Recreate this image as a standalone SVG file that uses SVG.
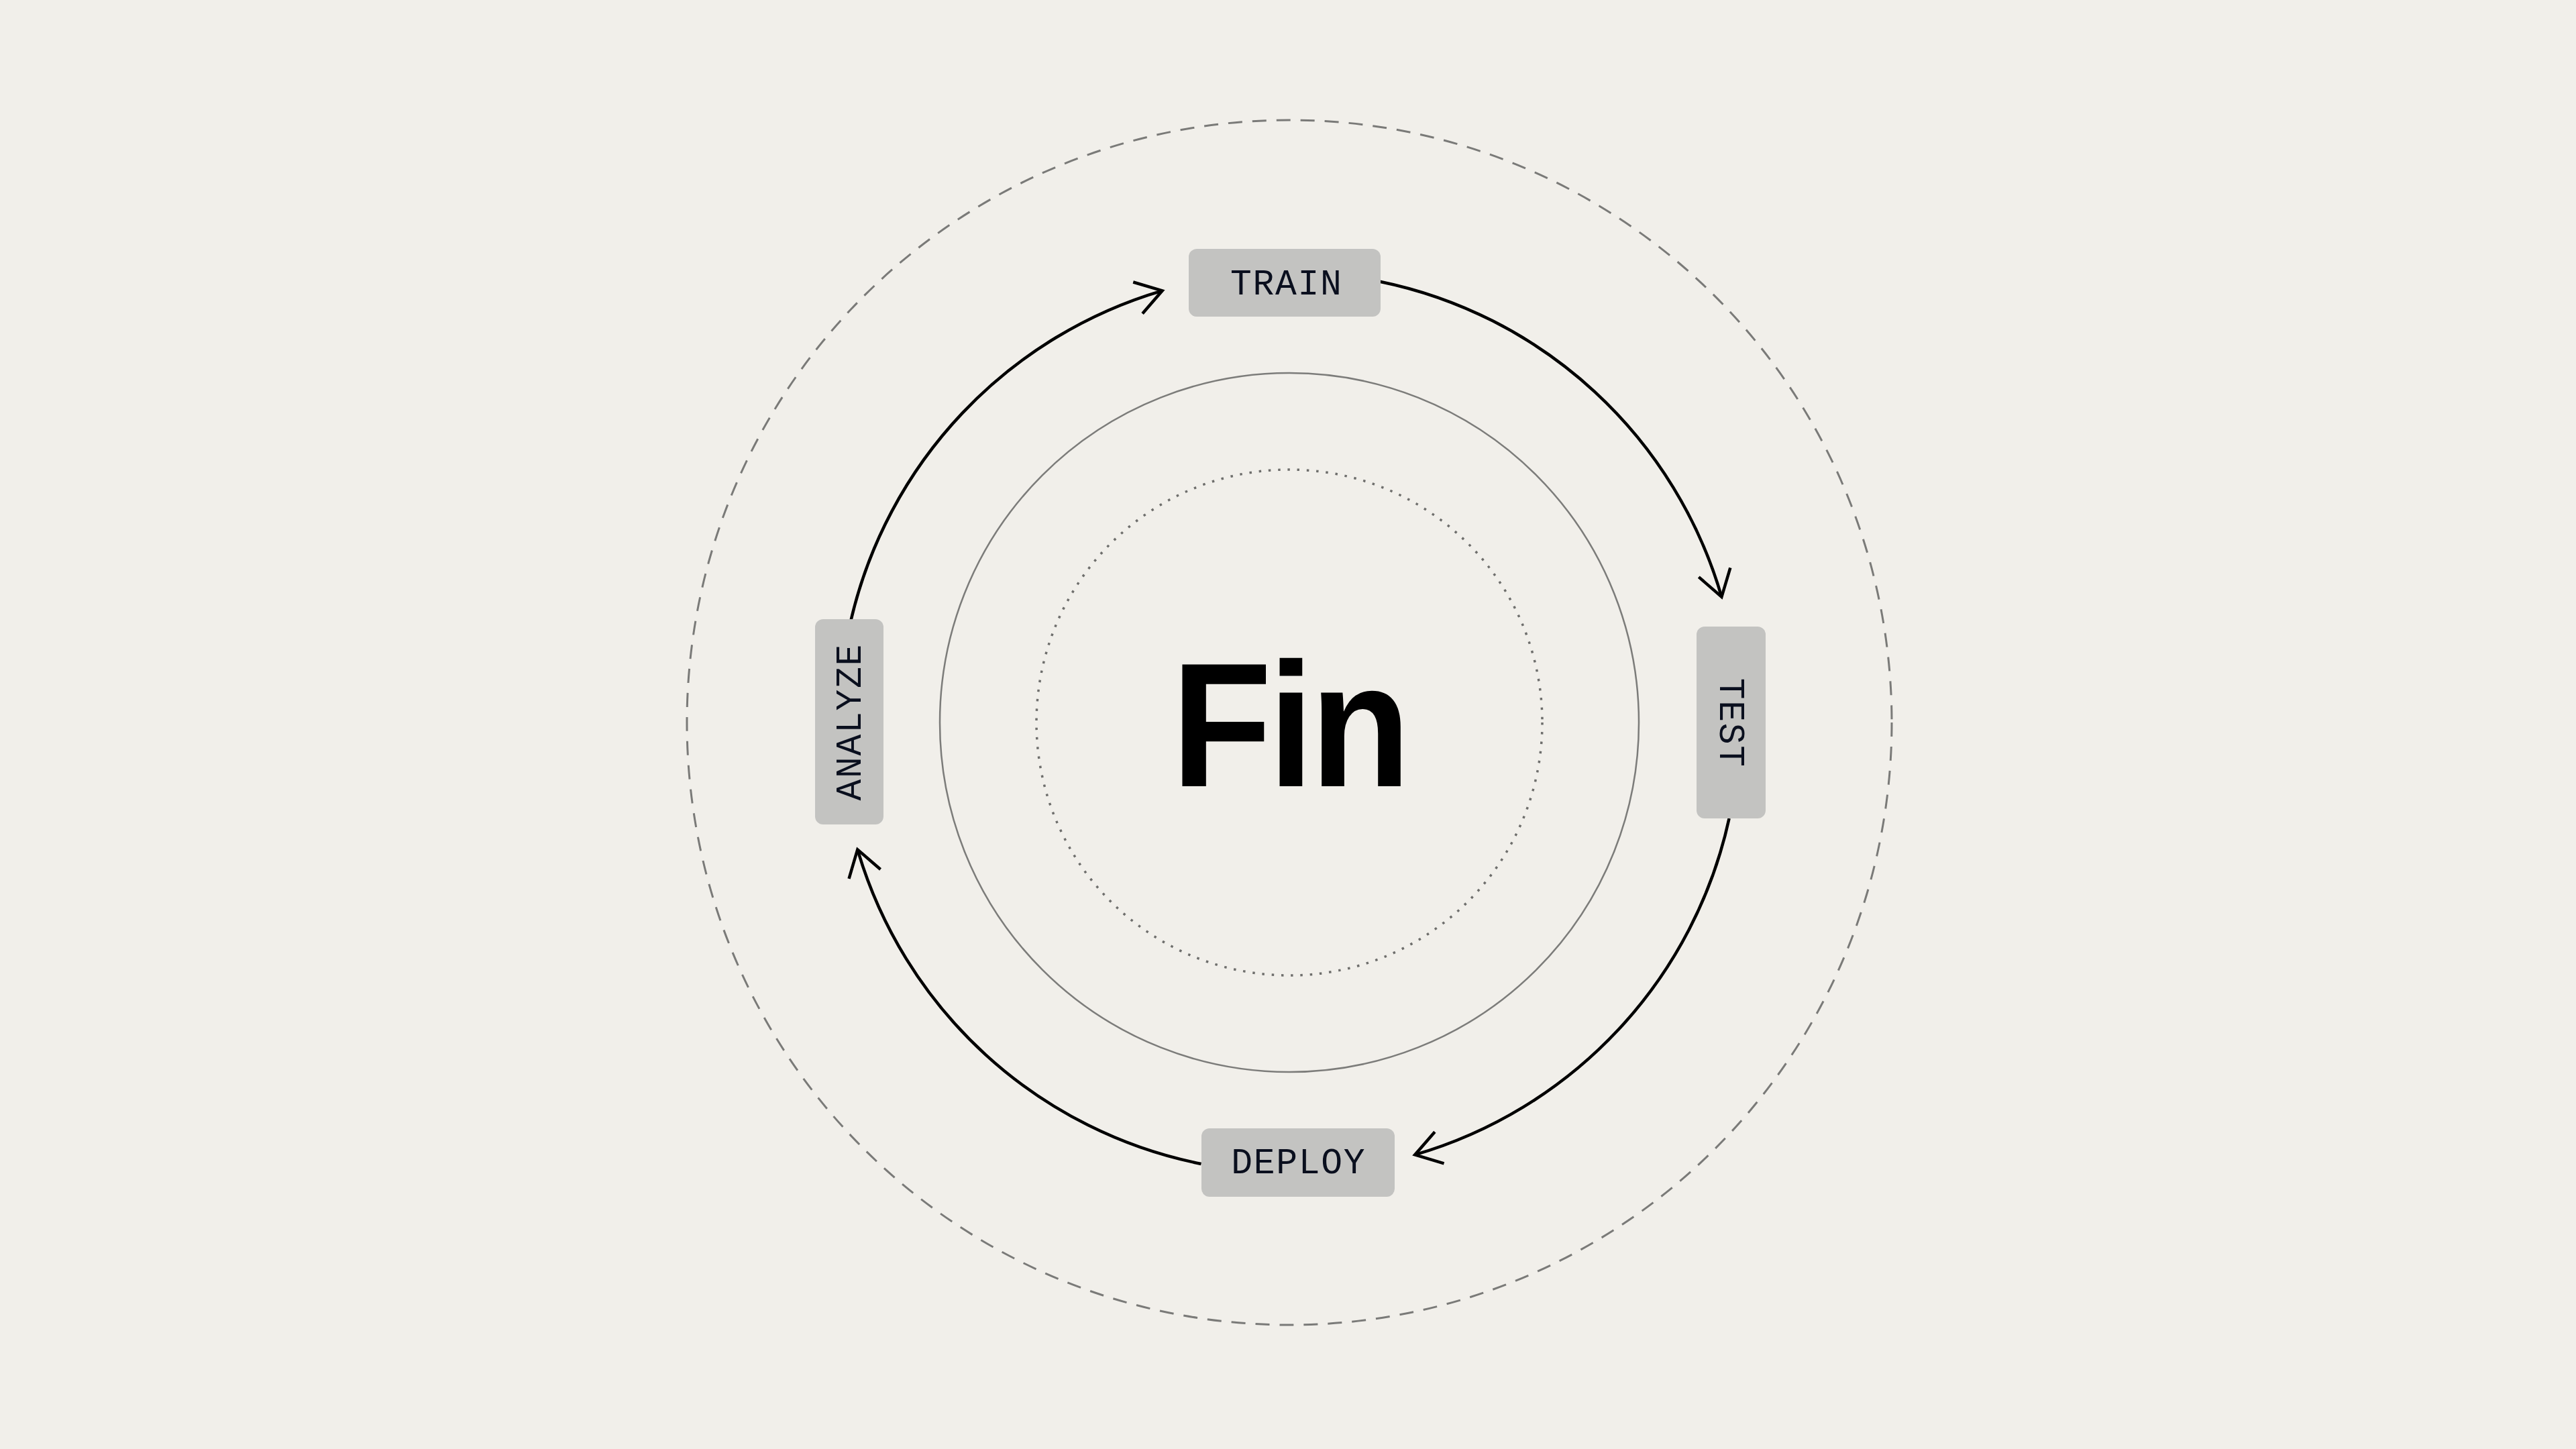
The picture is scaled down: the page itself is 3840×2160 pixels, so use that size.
<svg xmlns="http://www.w3.org/2000/svg" width="3840" height="2160" viewBox="0 0 3840 2160">
  <style>
    .bg { fill: #f1efea; }
    .ring-outer { fill: none; stroke: #7a7a78; stroke-width: 3; stroke-dasharray: 21 15; }
    .ring-mid { fill: none; stroke: #7c7c7a; stroke-width: 2.5; }
    .ring-inner { fill: none; stroke: #6e6e6c; stroke-width: 3.5; stroke-dasharray: 3.5 10.8; }
    .box { fill: #c3c3c1; }
    .label { font-family: "Liberation Mono", "DejaVu Sans Mono", monospace; font-size: 53px; letter-spacing: 1.7px; fill: #0a0f1e; text-anchor: middle; }
    .title { font-family: "Liberation Sans", Arial, sans-serif; font-weight: 700; font-size: 264px; letter-spacing: -6px; fill: #000; text-anchor: middle; }
    .arc { fill: none; stroke: #000; stroke-width: 4.5; marker-end: url(#chev); }
  </style>
  <defs>
    <marker id="chev" markerUnits="userSpaceOnUse" viewBox="-50 -30 60 60" markerWidth="60" markerHeight="60" refX="0" refY="0" orient="auto" overflow="visible">
      <path d="M -38 -24.5 L 0 0 L -38 24.5" fill="none" stroke="#000" stroke-width="4.5" stroke-linejoin="miter"/>
    </marker>
  </defs>
  <rect class="bg" x="0" y="0" width="3840" height="2160"/>

  <g id="rings">
    <circle class="ring-outer" cx="1922" cy="1077" r="898"/>
    <circle class="ring-mid" cx="1922" cy="1077" r="521"/>
    <circle class="ring-inner" cx="1922" cy="1077" r="377"/>
  </g>

  <g id="center">
    <text class="title" transform="translate(1924.5 1172) scale(0.93 1)" x="-3" y="0">Fin</text>
  </g>

  <g id="connectors">
    <path class="arc" d="M 2056.9 419.7 A 671 671 0 0 1 2566.4 889.8"/>
    <path class="arc" d="M 2577.6 1219.9 A 671 671 0 0 1 2109.2 1721.4"/>
    <path class="arc" d="M 1790.5 1735.0 A 671 671 0 0 1 1278.3 1266.4"/>
    <path class="arc" d="M 1268.7 923.7 A 671 671 0 0 1 1732.6 433.3"/>
  </g>

  <g id="node-train">
    <rect class="box" x="1772" y="371" width="286" height="101" rx="12"/>
    <text class="label" x="1917.8" y="438.5">TRAIN</text>
  </g>
  <g id="node-test">
    <rect class="box" x="2529" y="934" width="103" height="286" rx="12"/>
    <text class="label" transform="translate(2581 1077) rotate(90)" x="0.8" y="17.5">TEST</text>
  </g>
  <g id="node-deploy">
    <rect class="box" x="1791" y="1682" width="288" height="102" rx="12"/>
    <text class="label" x="1935.8" y="1749.2">DEPLOY</text>
  </g>
  <g id="node-analyze">
    <rect class="box" x="1215" y="923" width="102" height="306" rx="12"/>
    <text class="label" transform="translate(1265 1077) rotate(-90)" x="0.8" y="17.5">ANALYZE</text>
  </g>
</svg>
